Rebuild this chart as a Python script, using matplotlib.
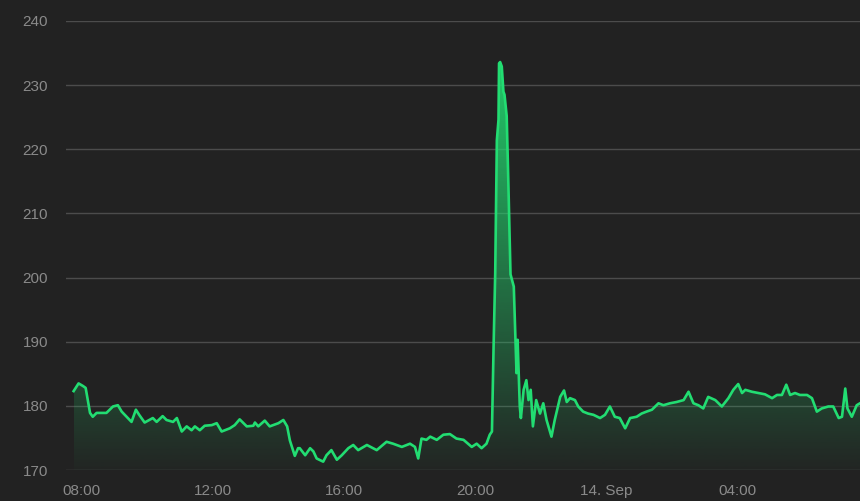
import matplotlib
matplotlib.use('Agg')
import matplotlib.pyplot as plt
import matplotlib.dates as mdates
import numpy as np
import pandas as pd

# price readings, 13 Sep 07:45 -> 14 Sep 07:45
times = ['07:45', '07:54', '08:02', '08:07', '08:15', '08:20', '08:27', '08:45', '08:51', '08:57',
         '09:06', '09:13', '09:31', '09:39', '09:45', '09:55', '10:10', '10:17', '10:28', '10:35',
         '10:47', '10:54', '11:03', '11:12', '11:21', '11:27', '11:36', '11:45', '11:58', '12:07',
         '12:16', '12:31', '12:40', '12:49', '13:02', '13:14', '13:17', '13:23', '13:35', '13:44',
         '14:00', '14:09', '14:16', '14:21', '14:30', '14:36', '14:39', '14:49', '14:58', '15:04',
         '15:10', '15:22', '15:28', '15:37', '15:47', '15:56', '16:08', '16:17', '16:26', '16:42',
         '17:00', '17:18', '17:30', '17:46', '18:01', '18:10', '18:16', '18:22', '18:31', '18:38',
         '18:50', '19:02', '19:14', '19:26', '19:39', '19:54', '20:03', '20:12', '20:21', '20:27',
         '20:31', '20:34', '20:37', '20:40', '20:43', '20:44', '20:46', '20:49', '20:52', '20:54',
         '20:58', '21:01', '21:05', '21:11', '21:14', '21:16', '21:18', '21:22', '21:24', '21:29',
         '21:34', '21:38', '21:42', '21:46', '21:52', '21:59', '22:05', '22:11', '22:20', '22:26',
         '22:36', '22:43', '22:48', '22:54', '23:03', '23:09', '23:18', '23:27', '23:37', '23:49',
         '23:58', '00:07', '00:16', '00:25', '00:35', '00:44', '00:56', '01:05', '01:14', '01:24',
         '01:36', '01:45', '01:57', '02:09', '02:22', '02:31', '02:40', '02:49', '02:58', '03:07',
         '03:20', '03:32', '03:44', '03:53', '04:02', '04:09', '04:15', '04:27', '04:39', '04:51',
         '05:04', '05:13', '05:22', '05:30', '05:37', '05:46', '05:55', '06:08', '06:17', '06:26',
         '06:35', '06:47', '06:56', '07:06', '07:12', '07:18', '07:22', '07:30', '07:39', '07:45']
prices = [182.3, 183.5, 183.1, 182.8, 178.9, 178.3, 178.9, 178.9, 179.4, 179.9,
          180.1, 179.1, 177.5, 179.4, 178.6, 177.4, 178.1, 177.5, 178.4, 177.8,
          177.5, 178.1, 176.0, 176.8, 176.2, 176.8, 176.2, 176.9, 177.0, 177.3,
          176.0, 176.5, 177.0, 177.9, 176.8, 176.9, 177.4, 176.8, 177.7, 176.8,
          177.3, 177.8, 176.8, 174.6, 172.2, 173.4, 173.4, 172.3, 173.4, 172.9,
          171.8, 171.3, 172.3, 173.1, 171.6, 172.3, 173.4, 173.9, 173.1, 173.9,
          173.1, 174.4, 174.1, 173.6, 174.1, 173.6, 171.8, 174.9, 174.7, 175.2,
          174.7, 175.5, 175.6, 174.9, 174.7, 173.6, 174.1, 173.4, 174.1, 175.5,
          176.0, 189.2, 200.7, 221.4, 224.6, 233.4, 233.6, 232.9, 229.0, 228.5,
          225.2, 215.0, 200.5, 198.6, 190.8, 185.1, 190.3, 179.9, 178.1, 182.5,
          184.0, 180.9, 182.5, 176.8, 180.9, 178.8, 180.4, 177.8, 175.2, 177.8,
          181.4, 182.4, 180.6, 181.2, 180.9, 179.9, 179.1, 178.8, 178.6, 178.1,
          178.6, 179.9, 178.3, 178.1, 176.5, 178.1, 178.3, 178.8, 179.1, 179.4,
          180.4, 180.1, 180.4, 180.6, 180.9, 182.2, 180.4, 180.1, 179.6, 181.4,
          180.9, 179.9, 181.2, 182.5, 183.4, 182.0, 182.5, 182.2, 182.0, 181.8,
          181.2, 181.7, 181.7, 183.3, 181.7, 182.0, 181.7, 181.7, 181.2, 179.1,
          179.6, 179.9, 179.9, 178.1, 178.3, 182.7, 179.6, 178.3, 180.1, 180.4]

tick_times = ['2023-09-13 08:00', '2023-09-13 12:00', '2023-09-13 16:00',
              '2023-09-13 20:00', '2023-09-14 00:00', '2023-09-14 04:00']
tick_labels = ['08:00', '12:00', '16:00', '20:00', '14. Sep', '04:00']
y_ticks = [170, 180, 190, 200, 210, 220, 230, 240]

# build timestamps, rolling over to the next day after midnight
stamps = []
day = pd.Timestamp('2023-09-13')
prev = None
for t in times:
    hh, mm = map(int, t.split(':'))
    if prev is not None and hh * 60 + mm < prev:
        day = day + pd.Timedelta(days=1)
    prev = hh * 60 + mm
    stamps.append(day + pd.Timedelta(hours=hh, minutes=mm))
x = mdates.date2num(stamps)
y = np.array(prices)

bg = '#222222'
green = '#22dd72'

fig = plt.figure(figsize=(8.6, 5.01), dpi=100, facecolor=bg)
ax = fig.add_axes([66 / 860, 1 - 470 / 501, 1 - 66 / 860, (470 - 21) / 501])
ax.set_facecolor(bg)

ymin, ymax = 170, 240
xlim = (mdates.date2num(pd.Timestamp('2023-09-13 07:31')), x[-1])

# gradient fill under the line
grad = np.zeros((256, 1, 4))
grad[:, 0, 0] = 0x22 / 255
grad[:, 0, 1] = 0xdd / 255
grad[:, 0, 2] = 0x72 / 255
grad[:, 0, 3] = np.linspace(0.02, 0.9, 256)
img = ax.imshow(grad, aspect='auto', origin='lower',
                extent=[x[0], x[-1], ymin, 234], zorder=1)
poly = ax.fill_between(x, y, ymin, color='none', lw=0)
path = poly.get_paths()[0]
img.set_clip_path(path, transform=ax.transData)

ax.plot(x, y, color=green, lw=1.9, zorder=3, solid_joinstyle='round')

ax.set_xlim(*xlim)
ax.set_ylim(ymin, ymax)
ax.set_yticks(y_ticks)
ax.set_xticks(mdates.date2num(pd.to_datetime(tick_times)))
ax.set_xticklabels(tick_labels)

for s in ax.spines.values():
    s.set_visible(False)
ax.grid(axis='y', color='#4c4c4c', lw=1)
ax.grid(axis='x', visible=False)
ax.set_axisbelow(True)
ax.tick_params(length=0, colors='#8a8a8a', labelsize=11)
ax.tick_params(axis='y', pad=13)
ax.tick_params(axis='x', pad=10)
for lbl in ax.get_xticklabels() + ax.get_yticklabels():
    lbl.set_fontfamily('Liberation Sans')

fig.savefig('out.png', dpi=100, facecolor=bg)
